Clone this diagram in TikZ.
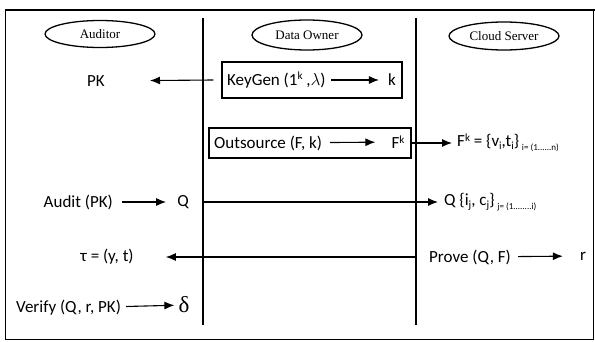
\documentclass[tikz,border=0pt]{standalone}
\usepackage{fontspec}
\setmainfont{Carlito}
\newfontfamily\tnr{Liberation Serif}
\usetikzlibrary{shapes.geometric,arrows.meta}
\newcommand\supk[1]{{\fontsize{11}{12}\selectfont\raisebox{5.5pt}{#1}}}
\newcommand\subk[1]{{\fontsize{11}{12}\selectfont\raisebox{-3pt}{#1}}}
\newcommand\rng[1]{{\fontsize{9}{10}\selectfont\raisebox{-4pt}{#1}}}
\tikzset{
  party/.style={draw, ellipse, line width=1.3pt, minimum width=110pt, minimum height=27pt,
    inner sep=0pt, font=\tnr\fontsize{13}{15}\selectfont},
  txt/.style={inner sep=1pt, font=\fontsize{17}{20}\selectfont},
  msg/.style={line width=1.1pt, -{Latex[length=10pt,width=8pt]}},
  stepbox/.style={draw, line width=1.3pt, inner sep=0pt}
}
\begin{document}
\begin{tikzpicture}[x=1pt,y=-1pt]
\useasboundingbox (0,0) rectangle (595,342);
\draw[line width=1pt] (5,10) rectangle (593,339);
\draw[line width=2pt] (5,10) -- (595,10);
% swim lanes
\coordinate (ownlt) at (203,18);
\coordinate (ownlb) at (203,325);
\coordinate (ownrt) at (416,18);
\coordinate (ownrb) at (416,325);
\draw[line width=1.2pt] (ownlt) -- (ownlb);
\draw[line width=1.2pt] (ownrt) -- (ownrb);
\node[party] (aud) at (100,34) {Auditor};
\node[party, minimum height=30pt] (own) at (307,35) {Data Owner};
\node[party, minimum height=28pt] (cld) at (504,36) {Cloud Server};
% key generation
\node[stepbox, minimum width=180pt, minimum height=36pt] (kgbox) at (312,80) {};
\node[txt, anchor=west] (keygen) at (226,80) {KeyGen (1\supk{k} ,$\lambda$)};
\node[txt] (k) at (392,80) {k};
\draw[msg, shorten <=4pt, shorten >=8pt] (keygen) -- (k);
\node[txt] (pk) at (96,81) {PK};
\draw[msg, shorten >=44pt] (kgbox.west) ++(-8,0) -- (pk);
% outsourcing
\node[stepbox, minimum width=202pt, minimum height=30pt] (outbox) at (310,143) {};
\node[txt, anchor=west] (outsrc) at (213,143) {Outsource (F, k)};
\node[txt] (fk) at (398,142) {F\supk{k}};
\draw[msg, shorten <=7pt, shorten >=15pt] (outsrc) -- (fk);
\node[txt, anchor=west] (fset) at (456,143) {F\supk{k} = \{v\subk{i},t\subk{i}\}\,\rng{i= (1......n)}};
\draw[msg, shorten >=4pt] (outbox) -- (fset);
% challenge
\node[txt, anchor=east] (audit) at (114,202) {Audit (PK)};
\node[txt] (q) at (183,202) {Q};
\draw[msg, shorten <=8pt, shorten >=10pt] (audit) -- (q);
\node[txt, anchor=west] (qset) at (443,202) {Q \{i\subk{j}, c\subk{j}\}\,\rng{j= (1........i)}};
\draw[msg, shorten >=5pt] (q -| ownlt) -- (qset);
% proof
\node[txt, anchor=west] (prove) at (428,257) {Prove (Q, F)};
\node[txt] (r) at (583,256) {r};
\draw[msg, shorten <=6pt, shorten >=16pt] (prove) -- (r);
\node[txt] (tau) at (107,257) {τ = (y, t)};
\draw[msg, shorten >=31pt] (tau -| ownrt) -- (tau);
% verification
\node[txt, anchor=west] (verify) at (15,308) {Verify (Q, r, PK)};
\node[inner sep=1pt, font=\tnr\fontsize{23}{25}\selectfont] (delta) at (184,305) {δ};
\draw[msg, shorten <=4pt, shorten >=3pt] (verify) -- (delta);
\end{tikzpicture}
\end{document}
